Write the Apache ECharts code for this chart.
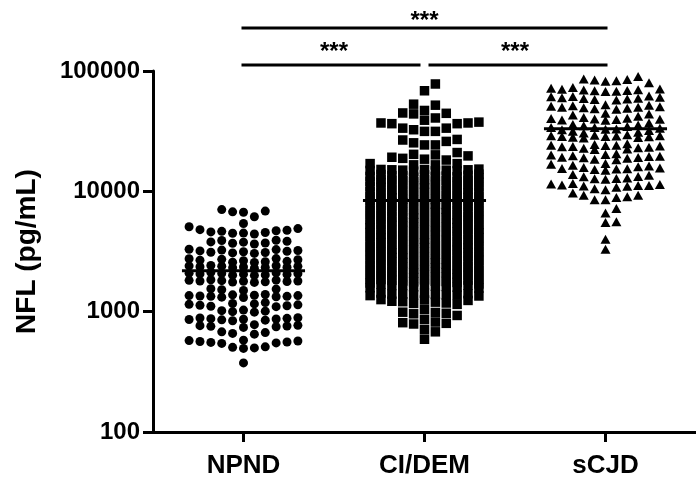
<!DOCTYPE html>
<html>
<head>
<meta charset="utf-8">
<script src="https://cdn.jsdelivr.net/npm/echarts@6/dist/echarts.min.js"></script>
<style>
  html, body { margin: 0; padding: 0; background: #fff; }
  #chart { width: 696px; height: 488px; }
</style>
</head>
<body>
<div id="chart"></div>
<script>
// ---- data (NFL, pg/mL) ----
const categories = ['NPND', 'CI/DEM', 'sCJD'];
const yTicks = [100, 1000, 10000, 100000];

const npnd = [
  7050, 6700, 6150, 6750, 6850,
  5080, 4900, 5400,
  4750, 4500, 4420, 4600, 4480, 4700, 4550, 4650, 4800,
  3900, 3800, 3850, 3700, 3650, 3780, 3920, 3720,
  3300, 3200, 3150, 3250, 3080, 3180, 3120, 3280, 3050, 3220, 3100,
  2750, 2680, 2620, 2580, 2700, 2650, 2760, 2600, 2720, 2560,
  2400, 2350, 2380, 2320, 2420, 2360, 2300, 2390, 2340, 2410, 2330,
  2100, 2060, 2020, 2080, 2000, 2120, 2040, 2090, 2010, 2070, 2050,
  1820, 1780, 1800, 1760, 1830, 1790, 1750, 1810, 1770, 1840, 1800,
  1550, 1520, 1500, 1540,
  1370, 1340, 1360, 1320, 1380, 1350, 1330, 1390, 1310, 1360, 1340,
  1170, 1130, 1150, 1100, 1190, 1120, 1160, 1140, 1110,
  1020, 1000, 990, 1010, 1030,
  880, 860, 870, 850, 890, 840, 875, 865, 855, 885,
  770, 750, 760, 740, 780, 755, 765,
  670, 660, 650, 680,
  570, 560, 550, 580, 565, 555, 575, 545,
  505, 495, 500, 510,
  375
];

const ciDem = [
  78000, 68500, 53000, 47000, 52000,
  44500, 44000, 44800, 40700, 37600,
  39000, 37000, 36500, 36500, 37000,
  33500, 32500, 33500, 31500, 31500,
  26000, 26700, 27000, 24300, 25300, 24300,
  21000,
  20100, 19200, 18500, 17000, 16600, 16600, 17000, 18200, 18800, 19700, 20300,
  15200, 15000, 14800, 15300, 14900, 15100, 14700, 15000, 15200, 14800, 15100,
  13600, 13300, 13800, 13100, 13500, 13200, 13700, 13400, 13000, 13900, 13300, 13500,
  12400, 12100, 12500, 11900, 12300, 12000, 12600, 12200, 11800, 12400, 12100, 12300,
  11300, 11000, 11400, 10800, 11200, 10900, 11500, 11100, 10700, 11300, 11000, 11200,
  10200, 9950, 10300, 9800, 10100, 9900, 10400, 10000, 9700, 10250, 9850, 10150,
  9300, 9050, 9400, 8900, 9200, 9000, 9450, 9100, 8850, 9350, 8950, 9250,
  8450, 8200, 8550, 8100, 8350, 8150, 8600, 8300, 8050, 8500, 8250, 8400,
  7700, 7450, 7750, 7350, 7600, 7400, 7800, 7550, 7300, 7650, 7500, 7700,
  7000, 6750, 7050, 6700, 6900, 6800, 7100, 6850, 6650, 6950, 6780, 6920,
  6350, 6150, 6400, 6050, 6300, 6100, 6450, 6200, 6000, 6380, 6120, 6280,
  5780, 5600, 5820, 5500, 5720, 5550, 5850, 5650, 5450, 5800, 5580, 5700,
  5250, 5080, 5300, 5000, 5200, 5050, 5320, 5150, 4980, 5280, 5100, 5220,
  4780, 4620, 4820, 4550, 4720, 4600, 4850, 4680, 4520, 4800, 4640, 4740,
  4340, 4200, 4380, 4130, 4300, 4180, 4400, 4250, 4100, 4360, 4220, 4310,
  3940, 3810, 3980, 3750, 3900, 3790, 4000, 3860, 3720, 3960, 3830, 3920,
  3580, 3470, 3620, 3410, 3550, 3440, 3640, 3510, 3380, 3600, 3480, 3560,
  3260, 3150, 3290, 3100, 3230, 3130, 3310, 3190, 3070, 3270, 3160, 3240,
  2960, 2860, 2990, 2820, 2930, 2850, 3010, 2900, 2790, 2970, 2880, 2940,
  2690, 2610, 2720, 2560, 2670, 2590, 2740, 2640, 2540, 2700, 2620, 2680,
  2440, 2360, 2470, 2320, 2420, 2350, 2480, 2390, 2300, 2450, 2370, 2430,
  2220, 2150, 2250, 2110, 2200, 2140, 2260, 2180, 2090, 2230, 2160, 2210,
  2020, 1950, 2040, 1920, 2000, 1940, 2060, 1980, 1900, 2030, 1960, 2010,
  1840, 1780, 1860, 1750, 1820, 1770, 1870, 1800, 1730, 1850, 1790, 1830,
  1660, 1610, 1690, 1580, 1650, 1600, 1700, 1630, 1570, 1680, 1620, 1650,
  1420, 1380, 1400, 1360, 1390, 1370, 1410, 1350, 1380, 1400, 1430,
  1250, 1200, 1220, 1180, 1240, 1210, 1260, 1150, 1170,
  930, 1040, 990, 960, 970, 985,
  820, 810, 790, 800, 860,
  710, 680,
  590
];

const scjd = [
  90000, 86000, 84000, 82000, 80000, 85000, 83000,
  72000, 70000, 68000, 69000, 71000, 67500, 70500, 69500, 68500, 73000,
  62000, 60000, 58500, 59000, 61000, 57500, 60500, 59500, 58000, 61500,
  52000, 50500, 49500, 51000, 48500, 50000, 52500, 49000, 51500, 48000, 50000,
  44000, 43000, 42000, 44500,
  40000, 39500, 40500, 39000, 41000, 39800, 40200, 39200,
  37000, 36000, 35000, 34500, 34000, 33500, 33000, 32500, 32000, 31500, 31000, 30500, 35500, 34000, 32800,
  29000, 28500, 28800, 28200, 29200, 28000, 28600, 29500, 27800, 28400, 29000,
  24500, 23500, 24000, 23000, 22500, 24200, 23200, 22800, 23800, 24800, 22300, 23600, 24100,
  20000, 19500, 19000, 18500, 20200, 19200, 18800, 19800, 18300, 19600, 20500, 19100,
  16800, 16200, 15800, 15500, 15200, 15000, 15400, 15600, 16000, 16500, 17000, 15300,
  13800, 13200, 12800, 12700, 12600, 12900, 13300, 13600,
  11500, 11200, 11000, 11400, 11300, 11100, 11200, 11600, 10300, 10500, 10800,
  9300, 8900, 8500, 9700, 8500, 9000, 9300,
  7200, 6600,
  5600, 5500,
  4000,
  3300
];

const groups = [npnd, ciDem, scjd];

// ---- layout ----
const W = 696, H = 488;
const GRID = { left: 153, top: 71, bottom: 56, width: 549 };
const PLOT_H = H - GRID.top - GRID.bottom;
const CAT_W = GRID.width / categories.length;
const FONT = 'Liberation Sans, Arial, Helvetica, sans-serif';

// Column-based dot plot: values are placed from low to high, each one in the
// column closest to the centre where it does not collide with an earlier dot.
// When every column is taken, the dot goes where it overlaps least.
function swarm(values, cat, sym) {
  const pxPerDecade = PLOT_H / (Math.log10(yTicks[yTicks.length - 1]) - Math.log10(yTicks[0]));
  const sorted = values.slice().sort((a, b) => a - b);
  const placed = [];
  const full = [0], half = [0];
  for (let k = 1; k <= 5; k++) full.push(k * sym.dx, -k * sym.dx);
  for (let k = 1; k <= 10; k++) half.push(k * sym.dx / 2, -k * sym.dx / 2);
  const clearance = (cx, y) => {
    let c = Infinity;
    for (const p of placed) {
      if (Math.abs(p.x - cx) < sym.w) {
        const d = Math.abs(p.y - y);
        if (d < c) c = d;
      }
    }
    return c;
  };
  const bestOf = (cands, y) => {
    let best = -1, pos = 0;
    for (const c of cands) {
      const cl = clearance(c, y);
      if (cl > best + 0.01) { best = cl; pos = c; }
    }
    return { pos, best };
  };
  const out = [];
  for (const v of sorted) {
    const y = Math.log10(v) * pxPerDecade;
    let pos = null;
    for (const c of full) {
      if (clearance(c, y) >= sym.h) { pos = c; break; }
    }
    if (pos === null) {
      const f = bestOf(full, y);
      pos = f.best >= 0.5 * sym.h ? f.pos : bestOf(half, y).pos;
    }
    placed.push({ x: pos, y: y });
    out.push([cat + pos / CAT_W, v]);
  }
  return out;
}

const mean = a => a.reduce((s, v) => s + v, 0) / a.length;
const means = groups.map(mean);

const symbols = [
  { symbol: 'circle', size: 9, dx: 11, w: 9, h: 9 },
  { symbol: 'rect', size: 9.5, dx: 11, w: 9.5, h: 9.5 },
  { symbol: 'triangle', size: [10, 9], dx: 11, w: 10, h: 9 }
];

const chart = echarts.init(document.getElementById('chart'), null, { renderer: 'canvas' });

const scatterSeries = groups.map((vals, i) => ({
  type: 'scatter',
  name: categories[i],
  xAxisIndex: 1,
  yAxisIndex: 0,
  symbol: symbols[i].symbol,
  symbolSize: symbols[i].size,
  itemStyle: { color: '#000', opacity: 1 },
  emphasis: { disabled: true },
  silent: true,
  animation: false,
  data: swarm(vals, i, symbols[i])
}));

const meanHalfWidth = 0.34;
const meanSeries = {
  type: 'custom',
  xAxisIndex: 1,
  yAxisIndex: 0,
  silent: true,
  animation: false,
  z: 5,
  data: means.map((m, i) => [i, m]),
  renderItem: (params, api) => {
    const i = api.value(0), m = api.value(1);
    const a = api.coord([i - meanHalfWidth, m]);
    const b = api.coord([i + meanHalfWidth, m]);
    return {
      type: 'line',
      shape: { x1: a[0], y1: a[1], x2: b[0], y2: b[1] },
      style: { stroke: '#000', lineWidth: 3 }
    };
  }
};

const axisTick = { show: true, length: 10, lineStyle: { color: '#000', width: 3 } };

chart.setOption({
  animation: false,
  backgroundColor: '#fff',
  grid: { left: GRID.left, top: GRID.top, bottom: GRID.bottom, width: GRID.width, containLabel: false },
  xAxis: [
    {
      type: 'category',
      data: categories,
      boundaryGap: true,
      axisLine: { show: true, onZero: false, lineStyle: { color: '#000', width: 3 } },
      axisTick: Object.assign({ alignWithLabel: true }, axisTick),
      axisLabel: { color: '#000', fontFamily: FONT, fontWeight: 'bold', fontSize: 26, margin: 21 },
      splitLine: { show: false }
    },
    { type: 'value', min: -0.5, max: 2.5, show: false, splitLine: { show: false } }
  ],
  yAxis: {
    type: 'log',
    logBase: 10,
    min: yTicks[0],
    max: yTicks[yTicks.length - 1],
    splitNumber: 3,
    name: 'NFL (pg/mL)',
    nameLocation: 'middle',
    nameRotate: 90,
    nameGap: 112,
    nameTextStyle: { color: '#000', fontFamily: FONT, fontWeight: 'bold', fontSize: 28 },
    axisLine: { show: true, onZero: false, lineStyle: { color: '#000', width: 3 } },
    axisTick: axisTick,
    axisLabel: {
      color: '#000', fontFamily: FONT, fontWeight: 'bold', fontSize: 24, margin: 13,
      formatter: v => String(Math.round(v))
    },
    splitLine: { show: false },
    minorTick: { show: false }
  },
  series: scatterSeries.concat([meanSeries])
});

// significance brackets above the plot
const px = x => chart.convertToPixel({ xAxisIndex: 1 }, x);
const x0 = px(0), x1 = px(1), x2 = px(2);
const gap = 4;
const bar = (a, b, y) => ({
  type: 'line', silent: true,
  shape: { x1: a, y1: y, x2: b, y2: y },
  style: { stroke: '#000', lineWidth: 3 }
});
const stars = (x, y) => ({
  type: 'text', silent: true,
  style: {
    text: '***', x: x, y: y, align: 'center', verticalAlign: 'middle',
    fill: '#000', fontFamily: FONT, fontWeight: 'bold', fontSize: 24
  }
});
chart.setOption({
  graphic: [
    bar(x0 - 2, x2 + 2, 28),
    stars((x0 + x2) / 2, 21),
    bar(x0 - 2, x1 - gap, 65),
    stars((x0 + x1) / 2, 52),
    bar(x1 + gap, x2 + 2, 65),
    stars((x1 + x2) / 2, 52)
  ]
});
</script>
</body>
</html>
